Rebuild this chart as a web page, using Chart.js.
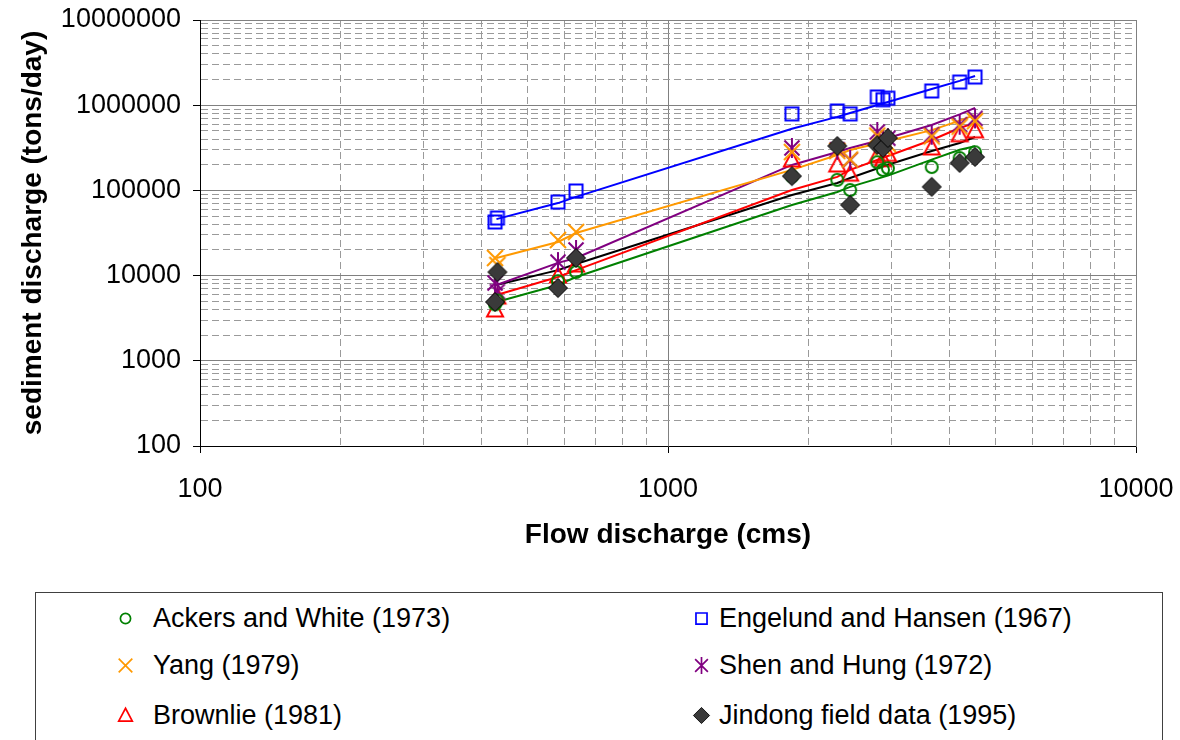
<!DOCTYPE html>
<html>
<head>
<meta charset="utf-8">
<script src="https://cdn.jsdelivr.net/npm/chart.js@4.4.1/dist/chart.umd.min.js"></script>
<style>
  html, body { margin: 0; padding: 0; background: #fff; }
  #wrap { position: relative; width: 1180px; height: 740px; overflow: hidden;
          font-family: "Liberation Sans", Arial, sans-serif; }
  #chart { position: absolute; left: 0; top: 0; }
  #legend { position: absolute; left: 35px; top: 592px; width: 1128px; height: 175px;
            border: 1px solid #404040; box-sizing: border-box; background: #fff; }
  .item { position: absolute; height: 40px; display: flex; align-items: center;
          font-size: 27px; color: #000; white-space: nowrap; }
</style>
</head>
<body>
<div id="wrap">
  <canvas id="chart" width="1180" height="740"></canvas>
  <div id="legend"></div>
</div>
<script>
// Flow discharge of each observed event (cms)
const flowQ = [427, 432, 582, 636, 1840, 2300, 2450, 2800, 2880, 2950, 3660, 4200, 4530];

// Sediment discharge (tons/day) computed by each transport formula, and measured
const ackersWhite    = [4600, 5100, 8600, 11000, 146000, 133000, 101000, 214000, 174000, 182000, 188000, 240000, 280000];
const engelundHansen = [42600, 47400, 73000, 98400, 790000, 855000, 790000, 1250000, 1160000, 1210000, 1470000, 1870000, 2140000];
const yang           = [16100, 13300, 26200, 32500, 282000, 290000, 230000, 440000, 320000, 350000, 430000, 560000, 650000];
const shenHung       = [8200, 6500, 14400, 20000, 315000, 300000, 228000, 485000, 390000, 410000, 450000, 590000, 700000];
const brownlie       = [3950, 5600, 9900, 13300, 228000, 199000, 155000, 255000, 230000, 265000, 315000, 450000, 500000];
const jindongField   = [4900, 11000, 7150, 16100, 147000, 332000, 67500, 341000, 315000, 412000, 110000, 210000, 247000];

// Rating curves fitted to each series, evaluated along the flow range
const curveQ         = [430, 582, 636, 1840, 2300, 2450, 2950, 3660, 4200, 4530];
const ackersCurve    = [4900, 7760, 9630, 67500, 95800, 110000, 149000, 230000, 300000, 330000];
const engelundCurve  = [46000, 71000, 84000, 530000, 730000, 810000, 1090000, 1550000, 1930000, 2200000];
const yangCurve      = [16100, 24800, 31600, 174000, 260000, 298000, 380000, 510000, 660000, 770000];
const shenCurve      = [7760, 14100, 16100, 199000, 282000, 315000, 412000, 586000, 780000, 930000];
const brownlieCurve  = [5920, 9630, 11600, 101000, 144000, 174000, 253000, 390000, 540000, 620000];
const jindongCurve   = [7760, 11600, 13700, 88300, 122000, 140000, 200000, 290000, 360000, 423000];

// Axis decades that carry labels
const xTickLabels = [100, 1000, 10000];
const yTickLabels = [100, 1000, 10000, 100000, 1000000, 10000000];

const FONT = '"Liberation Sans", Arial, sans-serif';
Chart.defaults.font.family = FONT;
Chart.defaults.color = '#000';

function isDecade(v) {
  const l = Math.log10(v);
  return Math.abs(l - Math.round(l)) < 1e-9;
}
// 1..9 x 10^n positions between the first and last decade
function logTicks(decades) {
  const t = [];
  const lo = decades[0], hi = decades[decades.length - 1];
  for (let d = lo; d <= hi; d *= 10) {
    for (let m = 1; m <= 9; m++) {
      const v = m * d;
      if (v > hi + 1e-6) break;
      t.push({ value: v, major: m === 1 });
    }
  }
  return t;
}
// Fixed axis box; label overhang goes into the layout padding
function fixBox(size, horizontal) {
  return (s) => {
    if (horizontal) s.height = size; else s.width = size;
    s.paddingTop = 0; s.paddingBottom = 0; s.paddingLeft = 0; s.paddingRight = 0;
  };
}

// Excel-style marker glyphs
function markerCanvas(kind, color, k) {
  const size = Math.ceil(26 * k);
  const c = document.createElement('canvas');
  c.width = size; c.height = size;
  const g = c.getContext('2d');
  g.translate(size / 2, size / 2);
  g.scale(k, k);
  g.lineWidth = 2;
  g.strokeStyle = color;
  g.beginPath();
  switch (kind) {
    case 'circle':
      g.arc(0, 0, 6, 0, 2 * Math.PI); g.stroke(); break;
    case 'square':
      g.rect(-6.5, -6.5, 13, 13); g.stroke(); break;
    case 'cross':
      g.moveTo(-8, -8); g.lineTo(8, 8); g.moveTo(8, -8); g.lineTo(-8, 8); g.stroke(); break;
    case 'asterisk':
      g.moveTo(-7.5, -7.5); g.lineTo(7.5, 7.5); g.moveTo(7.5, -7.5); g.lineTo(-7.5, 7.5);
      g.moveTo(0, -10); g.lineTo(0, 10); g.stroke(); break;
    case 'triangle':
      g.moveTo(0, -8.5); g.lineTo(8, 6.5); g.lineTo(-8, 6.5); g.closePath(); g.stroke(); break;
    case 'diamond':
      g.moveTo(0, -9.5); g.lineTo(9.5, 0); g.lineTo(0, 9.5); g.lineTo(-9.5, 0); g.closePath();
      g.fillStyle = '#3a3a3a'; g.fill(); g.lineWidth = 1; g.strokeStyle = '#000'; g.stroke(); break;
  }
  return c;
}

const seriesDefs = [
  { label: 'Ackers and White (1973)',    values: ackersWhite,    curve: ackersCurve,   color: '#008000', kind: 'circle' },
  { label: 'Engelund and Hansen (1967)', values: engelundHansen, curve: engelundCurve, color: '#0000FF', kind: 'square' },
  { label: 'Yang (1979)',                values: yang,           curve: yangCurve,     color: '#FF9900', kind: 'cross' },
  { label: 'Shen and Hung (1972)',       values: shenHung,       curve: shenCurve,     color: '#800080', kind: 'asterisk' },
  { label: 'Brownlie (1981)',            values: brownlie,       curve: brownlieCurve, color: '#FF0000', kind: 'triangle' },
  { label: 'Jindong field data (1995)',  values: jindongField,   curve: jindongCurve,  color: '#000000', kind: 'diamond' }
];

const datasets = [];
seriesDefs.forEach((s) => {
  datasets.push({
    label: s.label,
    data: flowQ.map((q, i) => ({ x: q, y: s.values[i] })),
    showLine: false,
    pointStyle: markerCanvas(s.kind, s.color, 1),
    pointRadius: 8,
    order: s.kind === 'diamond' ? 0 : 1
  });
});
seriesDefs.forEach((s) => {
  datasets.push({
    label: s.label + ' curve',
    data: curveQ.map((q, i) => ({ x: q, y: s.curve[i] })),
    showLine: true,
    borderColor: s.color,
    borderWidth: 2,
    pointRadius: 0,
    tension: 0,
    order: 5
  });
});

const minorGrid = '#9a9a9a';
const majorGrid = '#808080';

new Chart(document.getElementById('chart'), {
  type: 'scatter',
  data: { datasets },
  options: {
    responsive: false,
    animation: false,
    devicePixelRatio: 1,
    layout: { padding: { left: 0, right: 44, top: 20, bottom: 188 } },
    plugins: { legend: { display: false }, tooltip: { enabled: false } },
    scales: {
      x: {
        type: 'logarithmic', position: 'bottom',
        min: xTickLabels[0], max: xTickLabels[xTickLabels.length - 1],
        afterBuildTicks: (s) => { s.ticks = logTicks(xTickLabels); },
        afterFit: fixBox(106, true),
        ticks: {
          autoSkip: false, maxRotation: 0, padding: 20,
          font: { size: 27 },
          callback: (v) => (xTickLabels.includes(v) ? String(v) : '')
        },
        grid: {
          color: (c) => (isDecade(c.tick.value) ? 'rgba(0,0,0,0)' : minorGrid),
          lineWidth: 1,
          tickLength: 7,
          tickColor: (c) => (isDecade(c.tick.value) ? '#000' : 'rgba(0,0,0,0)')
        },
        border: { color: '#000', width: 1, dash: [7, 4] },
        title: {
          display: true, text: 'Flow discharge (cms)',
          font: { size: 28, weight: 'bold' }, padding: { top: 0, bottom: 0 }
        }
      },
      x2: {
        type: 'logarithmic', position: 'top',
        min: xTickLabels[0], max: xTickLabels[xTickLabels.length - 1],
        afterBuildTicks: (s) => { s.ticks = xTickLabels.map((v) => ({ value: v })); },
        afterFit: fixBox(0, true),
        ticks: { display: false },
        grid: {
          drawTicks: false,
          color: (c) => (c.tick && c.tick.value === xTickLabels[0] ? 'rgba(0,0,0,0)' : majorGrid)
        },
        border: { color: majorGrid, width: 1 }
      },
      y: {
        type: 'logarithmic', position: 'left',
        min: yTickLabels[0], max: yTickLabels[yTickLabels.length - 1],
        afterBuildTicks: (s) => { s.ticks = logTicks(yTickLabels); },
        afterFit: fixBox(200, false),
        ticks: {
          autoSkip: false, padding: 12,
          font: { size: 27 },
          callback: (v) => (yTickLabels.includes(v) ? String(v) : '')
        },
        grid: {
          color: (c) => (isDecade(c.tick.value) ? 'rgba(0,0,0,0)' : minorGrid),
          lineWidth: 1,
          tickLength: 7,
          tickColor: (c) => (isDecade(c.tick.value) ? '#000' : 'rgba(0,0,0,0)')
        },
        border: { color: '#000', width: 1, dash: [7, 4] },
        title: {
          display: true, text: 'sediment discharge (tons/day)',
          font: { size: 28, weight: 'bold' }, padding: { top: 16, bottom: 0 }
        }
      },
      y2: {
        type: 'logarithmic', position: 'right',
        min: yTickLabels[0], max: yTickLabels[yTickLabels.length - 1],
        afterBuildTicks: (s) => { s.ticks = yTickLabels.map((v) => ({ value: v })); },
        afterFit: fixBox(0, false),
        ticks: { display: false },
        grid: {
          drawTicks: false,
          color: (c) => (c.tick && c.tick.value === yTickLabels[0] ? 'rgba(0,0,0,0)' : majorGrid)
        },
        border: { color: majorGrid, width: 1 }
      }
    }
  }
});

// Legend box: two columns, filled row by row
const legend = document.getElementById('legend');
const colX = [{ mark: 89, text: 117 }, { mark: 665, text: 683 }];
const rowY = [25, 72, 122];
seriesDefs.forEach((s, i) => {
  const col = colX[i % 2], row = rowY[Math.floor(i / 2)];
  const item = document.createElement('div');
  item.className = 'item';
  item.style.left = col.text + 'px';
  item.style.top = (row - 20) + 'px';
  item.textContent = s.label;
  legend.appendChild(item);
  const mk = markerCanvas(s.kind, s.color, 0.85);
  mk.style.position = 'absolute';
  mk.style.left = (col.mark - mk.width / 2) + 'px';
  mk.style.top = (row - mk.height / 2) + 'px';
  legend.appendChild(mk);
});
</script>
</body>
</html>
